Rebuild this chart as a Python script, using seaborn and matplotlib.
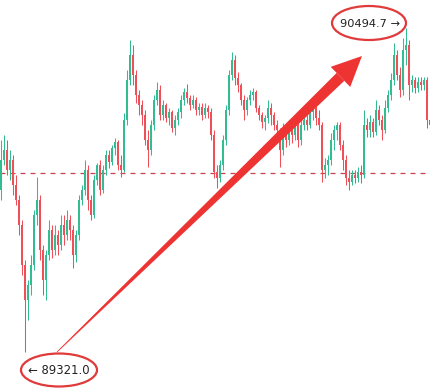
import numpy as np
import pandas as pd
import matplotlib
matplotlib.use("Agg")
import matplotlib.pyplot as plt
from matplotlib.patches import Ellipse, Polygon
import seaborn as sns

# ---------------- data (prices) ----------------
first_open = 89908
closes = [90017, 90053, 89980, 90017, 89926, 89872, 89781, 89636, 89510, 89564,
          89636, 89817, 89872, 89691, 89582, 89672, 89763, 89691, 89745, 89709,
          89781, 89745, 89799, 89763, 89672, 89745,
          89872, 89908, 89980, 89872, 89817, 89944, 89998, 89908, 89980, 90035,
          90009, 90060, 90082, 89998, 89980, 90162, 90306, 90397, 90324, 90252,
          90216, 90180, 90089, 90053, 90143, 90234, 90270, 90180, 90216, 90169,
          90190, 90132, 90162, 90190, 90234, 90263, 90241, 90216, 90234, 90198,
          90208, 90180, 90205, 90190, 90107, 89973, 89951, 89998, 90089, 90198,
          90324, 90379, 90314, 90288, 90234, 90198, 90234, 90252, 90263, 90205,
          90180, 90154, 90169, 90205, 90180, 90143, 90125, 90053, 90125, 90089,
          90132, 90107, 90143, 90089, 90143, 90162, 90143, 90190, 90205, 90169,
          90143, 89980, 89998, 90017, 90089, 90125, 90143, 90071, 90017, 89951,
          89937, 89962, 89951, 89973, 89962, 90143, 90125, 90154, 90118, 90198,
          90162, 90125, 90205, 90252, 90306, 90397, 90324, 90270, 90415, 90433,
          90288, 90306, 90277, 90299, 90288, 90306, 90162, 90143]
highs = [90089, 90107, 90089, 90053, 90035, 89962, 89890, 89799, 89654, 89582,
         89672, 89836, 89955, 89890, 89709, 89691, 89799, 89781, 89781, 89763,
         89817, 89817, 89836, 89817, 89781, 89763,
         89890, 89926, 90017, 89998, 89890, 89962, 90006, 90017, 89998, 90053,
         90053, 90071, 90096, 90089, 90035, 90187, 90343, 90451, 90433, 90343,
         90270, 90234, 90198, 90125, 90162, 90252, 90299, 90288, 90234, 90223,
         90205, 90198, 90180, 90205, 90252, 90277, 90292, 90252, 90252, 90245,
         90223, 90223, 90223, 90216, 90205, 90125, 89998, 90017, 90107, 90216,
         90343, 90408, 90397, 90335, 90295, 90252, 90245, 90270, 90277, 90270,
         90216, 90190, 90180, 90234, 90223, 90190, 90162, 90132, 90151, 90143,
         90162, 90154, 90162, 90154, 90162, 90180, 90180, 90205, 90216, 90216,
         90198, 90154, 90024, 90035, 90114, 90143, 90154, 90154, 90089, 90035,
         89980, 89980, 89980, 89991, 89998, 90198, 90169, 90180, 90169, 90234,
         90216, 90180, 90234, 90270, 90332, 90440, 90415, 90353, 90458, 90494.7,
         90451, 90324, 90317, 90317, 90317, 90317, 90317, 90180]
lows = [89872, 89998, 89962, 89944, 89890, 89854, 89745, 89600, 89321.0, 89437,
        89528, 89618, 89781, 89654, 89528, 89510, 89654, 89662, 89672, 89672,
        89691, 89709, 89727, 89727, 89625, 89647,
        89727, 89854, 89890, 89836, 89799, 89807, 89926, 89890, 89897, 89962,
        89988, 89998, 90035, 89980, 89955, 89973, 90143, 90288, 90288, 90223,
        90180, 90143, 90071, 89991, 90035, 90125, 90216, 90162, 90162, 90154,
        90143, 90118, 90107, 90143, 90169, 90216, 90223, 90198, 90205, 90180,
        90180, 90162, 90169, 90169, 90089, 89951, 89915, 89937, 89980, 90071,
        90180, 90306, 90288, 90263, 90216, 90162, 90180, 90216, 90234, 90190,
        90162, 90132, 90125, 90151, 90143, 90125, 90107, 89991, 90035, 90064,
        90071, 90078, 90089, 90064, 90071, 90125, 90125, 90132, 90162, 90143,
        90125, 89937, 89951, 89962, 89998, 90053, 90089, 90053, 89980, 89926,
        89908, 89926, 89933, 89937, 89933, 89951, 90100, 90100, 90100, 90107,
        90143, 90089, 90114, 90190, 90234, 90288, 90306, 90245, 90252, 90361,
        90234, 90263, 90259, 90263, 90270, 90270, 90132, 90107]
level_price = 89970
low_label = "\u2190 89321.0"
high_label = "90494.7 \u2192"

opens = [first_open] + closes[:-1]
df = pd.DataFrame({"open": opens, "high": highs, "low": lows, "close": closes})
df["idx"] = np.arange(len(df))
df["up"] = df["close"] >= df["open"]

# ---------------- figure ----------------
sns.set_theme(style="white")
plt.rcParams["font.family"] = ["DejaVu Sans"]
W, H = 431, 390
fig = plt.figure(figsize=(W / 100, H / 100), dpi=100)
ax = fig.add_axes([0, 0, 1, 1])
ax.set_axis_off()

GREEN = "#33bb92"
RED = "#ee4f58"
colors = np.where(df["up"], GREEN, RED)

ax.vlines(df["idx"], df["low"], df["high"], colors=colors, linewidth=0.75, zorder=2)
body_bottom = np.minimum(df["open"], df["close"])
body_h = np.maximum(np.abs(df["close"] - df["open"]), 2.0)
ax.bar(df["idx"], body_h, bottom=body_bottom, width=0.68, color=colors,
       linewidth=0, zorder=3)

ax.axhline(level_price, color="#c8424f", linestyle=(0, (4, 4)), linewidth=0.9,
           zorder=1)

ax.set_xlim(-0.33, 143.33)
ax.set_ylim(89183.5, 90596.1)

# ---------------- annotations (in pixel space of the figure) ----------------
def px(x, y):
    return (x / W, 1 - y / H)

red_anno = "#ee3333"
S = np.array([57.0, 352.0])
T = np.array([362.0, 56.0])
d = T - S
u = d / np.hypot(*d)
n = np.array([-u[1], u[0]])
head_len, head_half, shaft_end = 30.0, 14.0, 5.5
B = T - u * head_len
shaft = [S + n * 0.4, B + n * shaft_end, B - n * shaft_end, S - n * 0.4]
head = [B + n * head_half, T, B - n * head_half]
for poly in (shaft, head):
    fig.patches.append(Polygon([px(*p) for p in poly], closed=True,
                               transform=fig.transFigure, facecolor=red_anno,
                               edgecolor="none", zorder=5))

for (cx, cy, ew, eh) in [(369, 23, 74, 34), (59, 370, 76, 33)]:
    fig.patches.append(Ellipse(px(cx, cy), ew / W, eh / H, transform=fig.transFigure,
                               fill=False, edgecolor="#e03a3a", linewidth=1.6,
                               zorder=6))

fig.text(*px(370, 24), high_label, ha="center", va="center", fontsize=8.2,
         color="#222222", zorder=7)
fig.text(*px(59, 371), low_label, ha="center", va="center", fontsize=8.4,
         color="#222222", zorder=7)

fig.savefig("out.png", dpi=100, facecolor="white")
